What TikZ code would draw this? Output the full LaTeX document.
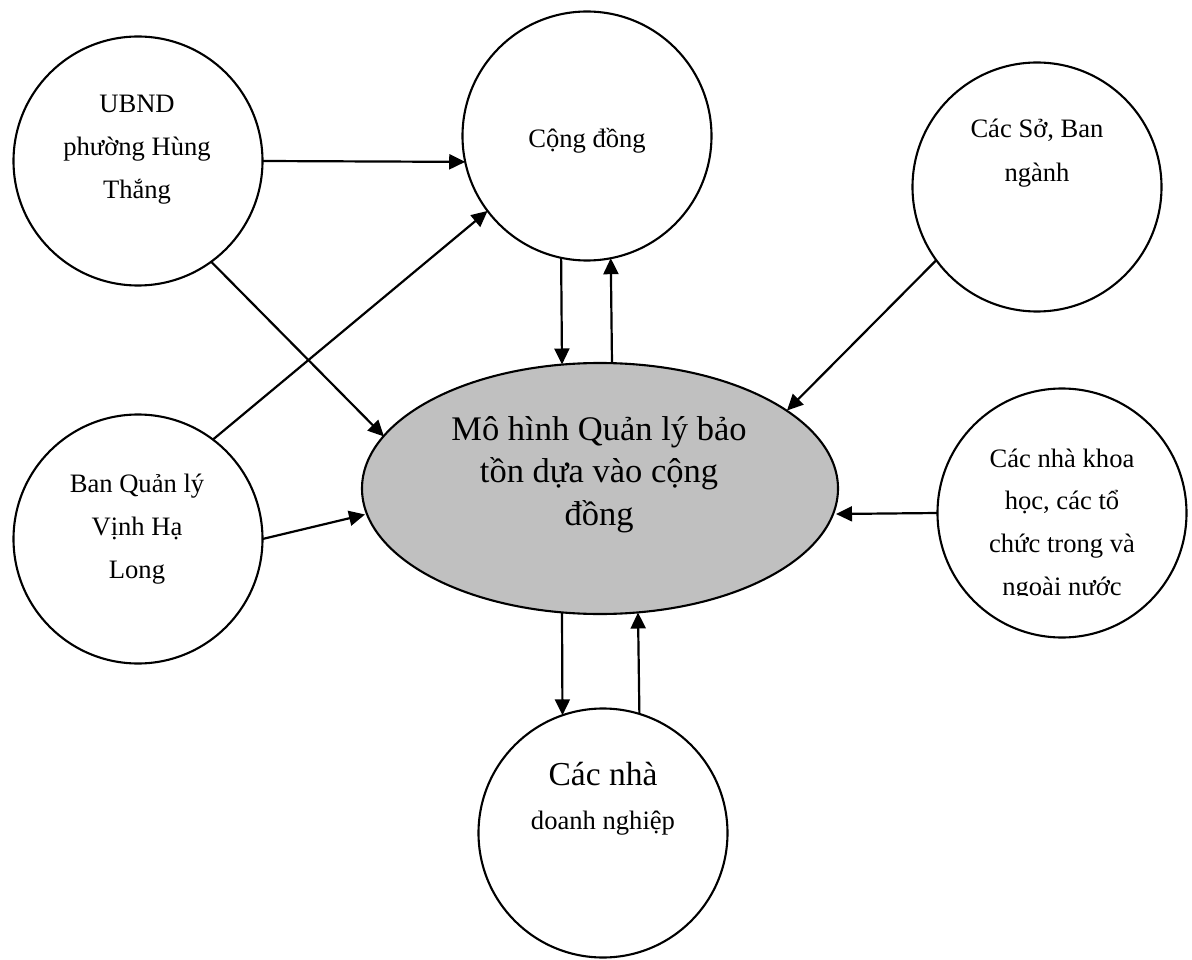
\documentclass[tikz,border=0pt]{standalone}
\usepackage{fontspec}
\setmainfont{Liberation Serif}
\usetikzlibrary{shapes.geometric,arrows.meta}
\definecolor{ellfill}{RGB}{192,192,192}
\newcommand{\mylines}[1]{\begin{tabular}[t]{@{}c@{}}#1\end{tabular}}
\tikzset{
  circ/.style={draw, circle, line width=2.1pt, minimum size=249pt, inner sep=0pt, outer sep=0pt},
  lbl/.style={anchor=base, inner sep=0pt, outer sep=0pt, font=\fontsize{26.6}{43}\selectfont},
  biglbl/.style={anchor=base, inner sep=0pt, outer sep=0pt, font=\fontsize{34.5}{42.5}\selectfont},
  arr/.style={line width=2.2pt, -{Triangle[length=16pt,width=15pt]}}
}
\begin{document}
\begin{tikzpicture}[x=1pt,y=-1pt]
\useasboundingbox (0,0) rectangle (1192,960);
% circles
\node[circ] (ubnd) at (138,161) {};
\node[circ] (cong) at (587,136) {};
\node[circ] (so) at (1037,187) {};
\node[circ] (ban) at (138,539) {};
\node[circ] (khoa) at (1062,513) {};
\node[circ] (dn) at (603,833) {};
\node[draw, ellipse, fill=ellfill, line width=2.1pt, minimum width=476pt, minimum height=251pt, inner sep=0pt, outer sep=0pt] (model) at (600,488.5) {};
% points on the ellipse border
\coordinate (mA) at ([shift={(-216,-52)}]model.center);
\coordinate (mB) at ([shift={(-235,26)}]model.center);
\coordinate (mC) at ([shift={(-38,-124)}]model.center);
\coordinate (mD) at ([shift={(12,-125.3)}]model.center);
\coordinate (mE) at ([shift={(187,-78)}]model.center);
\coordinate (mF) at ([shift={(236,25.5)}]model.center);
\coordinate (mG) at ([shift={(-38,124)}]model.center);
\coordinate (mH) at ([shift={(38,124)}]model.center);
% labels
\node[lbl] (ubndtext) at (137,113) {\mylines{UBND\\phường Hùng\\Thắng}};
\node[lbl] (congtext) at (587,148) {Cộng đồng};
\node[lbl] (sotext) at (1037,138) {\mylines{Các Sở, Ban\\[1pt]ngành}};
\node[lbl] (bantext) at (137,492) {\mylines{Ban Quản lý\\Vịnh Hạ\\Long}};
\begin{scope}
\clip (930,380) rectangle (1192,595);
\node[lbl, font=\fontsize{26.6}{42.7}\selectfont] (khoatext) at (1062,467) {\mylines{Các nhà khoa\\học, các tổ\\chức trong và\\ngoài nước}};
\end{scope}
\node[anchor=base, inner sep=0pt, font=\fontsize{33.5}{44}\selectfont] (dntext) at (603,785) {\mylines{Các nhà\\{\fontsize{26.6}{32}\selectfont doanh nghiệp}}};
\node[biglbl] (modeltext) at (599,440) {\mylines{Mô hình Quản lý bảo\\tồn dựa vào cộng\\đồng}};
% connectors
\draw[arr] (ubnd.east) -- (cong.192);
\draw[arr] (ubnd.306.6) -- (mA);
\draw[arr] (ban.53.7) -- (cong.217.3);
\draw[arr] (ban.east) -- (mB);
\draw[arr] (cong.258.5) -- (mC);
\draw[arr] (mD) -- (cong.281.5);
\draw[arr] (so.216.9) -- (mE);
\draw[arr] (khoa.west) -- (mF);
\draw[arr] (mG) -- (dn.109.1);
\draw[arr] (dn.73.74) -- (mH);
\end{tikzpicture}
\end{document}
